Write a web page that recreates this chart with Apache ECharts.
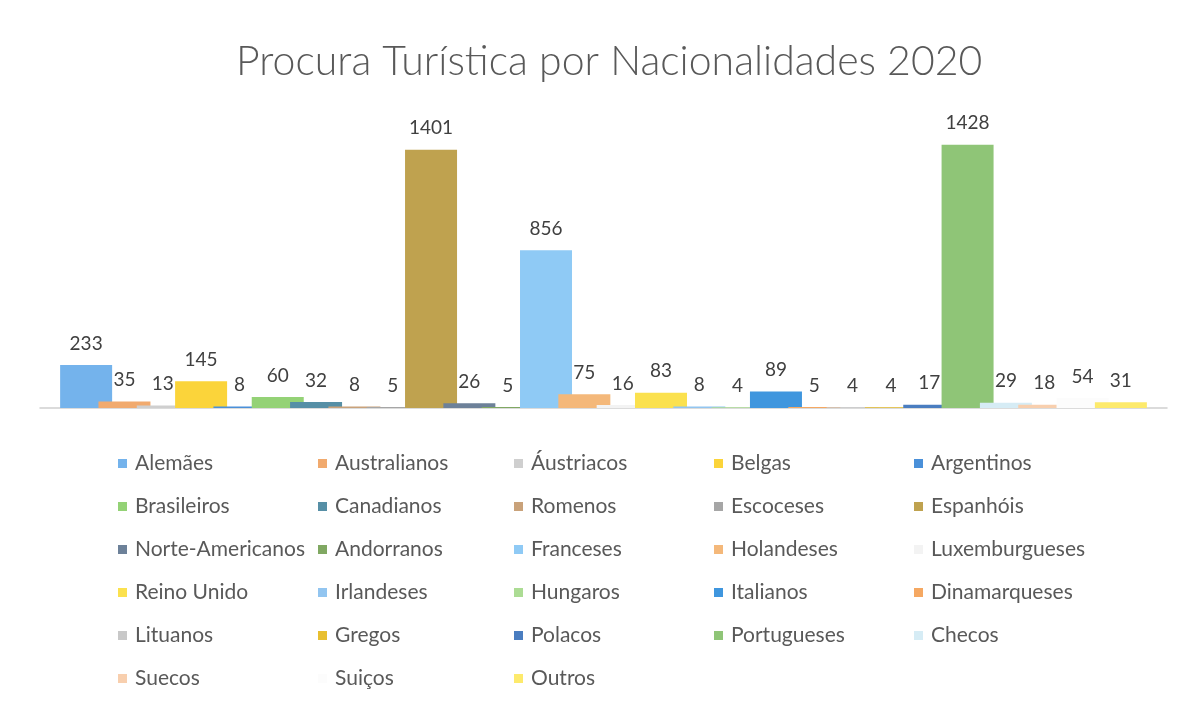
<!DOCTYPE html>
<html>
<head>
<meta charset="utf-8">
<title>Procura Turística por Nacionalidades 2020</title>
<script src="https://cdn.jsdelivr.net/npm/echarts@6/dist/echarts.min.js"></script>
<style>
  html, body { margin: 0; padding: 0; background: #fff; }
  #chart { width: 1187px; height: 704px; }
</style>
</head>
<body>
<div id="chart"></div>
<script>
// nationalities, in legend order
const nationalities = [
  'Alemães', 'Australianos', 'Áustriacos', 'Belgas', 'Argentinos',
  'Brasileiros', 'Canadianos', 'Romenos', 'Escoceses', 'Espanhóis',
  'Norte-Americanos', 'Andorranos', 'Franceses', 'Holandeses', 'Luxemburgueses',
  'Reino Unido', 'Irlandeses', 'Hungaros', 'Italianos', 'Dinamarqueses',
  'Lituanos', 'Gregos', 'Polacos', 'Portugueses', 'Checos',
  'Suecos', 'Suiços', 'Outros'
]

const visitors = [
  233, 35, 13, 145, 8,
  60, 32, 8, 5, 1401,
  26, 5, 856, 75, 16,
  83, 8, 4, 89, 5,
  4, 4, 17, 1428, 29,
  18, 54, 31
]

const barColors = [
  '#74b3ec', '#f1aa6e', '#cfcfcf', '#fbd43a', '#4a90d9',
  '#94d276', '#568fa6', '#c9a27a', '#a6a6a6', '#bfa24f',
  '#6d8199', '#80a862', '#8fcaf5', '#f4b87a', '#f3f3f3',
  '#fbe14e', '#92c5f0', '#acdc94', '#3f96de', '#f5a862',
  '#c8c8c8', '#e8bf30', '#4a7dc0', '#8fc577', '#d6ecf5',
  '#f8cfae', '#fcfcfc', '#fdea6c'
]

const category = ['2020']

const chart = echarts.init(document.getElementById('chart'))

const series = nationalities.map((name, i) => ({
  name: name,
  type: 'bar',
  data: [visitors[i]],
  barWidth: 52,
  barGap: '-26.3%',
  itemStyle: { color: barColors[i] },
  label: {
    show: true,
    position: 'top',
    distance: 12,
    color: '#404040',
    fontFamily: 'Lato',
    fontSize: 19
  },
  emphasis: { disabled: true }
}))

// one vertical legend per column, five columns
const columnLeft = [113, 313, 509, 709, 909]
const legends = columnLeft.map((left, c) => ({
  orient: 'vertical',
  left: left,
  top: 448,
  itemWidth: 9,
  itemHeight: 9,
  itemGap: 22,
  icon: 'rect',
  selectedMode: false,
  data: nationalities.filter((_, i) => i % 5 === c),
  textStyle: {
    color: '#595959',
    fontFamily: 'Lato',
    fontSize: 21,
    lineHeight: 20,
    padding: [0, 0, 0, 3]
  }
}))

const option = {
  backgroundColor: '#fff',
  animation: false,
  title: {
    text: 'Procura Turística por Nacionalidades 2020',
    left: 231,
    top: 36,
    textStyle: {
      color: '#595959',
      fontFamily: 'Lato',
      fontWeight: 300,
      fontSize: 41
    }
  },
  legend: legends,
  grid: {
    left: 40,
    right: 20,
    top: 113,
    bottom: 296,
    containLabel: false
  },
  xAxis: {
    type: 'category',
    data: category,
    axisLine: { lineStyle: { color: '#cfcfcf', width: 1.5 } },
    axisTick: { show: false },
    axisLabel: { show: false }
  },
  yAxis: {
    type: 'value',
    min: 0,
    max: 1600,
    show: false,
    splitLine: { show: false }
  },
  series: series
}

chart.setOption(option)
</script>
</body>
</html>
